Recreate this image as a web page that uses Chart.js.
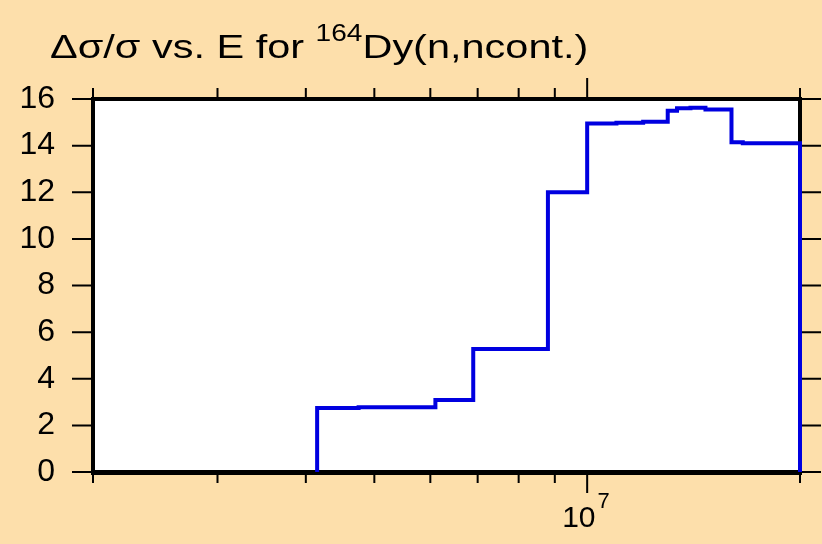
<!DOCTYPE html>
<html>
<head>
<meta charset="utf-8">
<script src="https://cdn.jsdelivr.net/npm/chart.js@4"></script>
<style>
    html, body { margin: 0; padding: 0; background: #fddfab; }
    canvas { display: block; }
</style>
</head>
<body>
<canvas id="chart" width="822" height="544"></canvas>
<script>
// upper bin edges (eV) and relative uncertainty (%) of each bin; first point is the threshold
const energies = [4.15e6, 4.75e6, 6.1e6, 6.9e6, 8.8e6, 1.0e7, 1.1e7, 1.2e7, 1.3e7, 1.34e7, 1.4e7, 1.47e7, 1.6e7, 1.66e7, 2e7, 2e7];
const uncertainty = [0, 2.75, 2.78, 3.09, 5.28, 12.0, 14.95, 14.98, 15.02, 15.5, 15.6, 15.63, 15.55, 14.15, 14.1, 0];
const xTicks = [2e6, 3e6, 4e6, 5e6, 6e6, 7e6, 8e6, 9e6, 1e7, 2e7];
const xMajor = [1e7];
const yTicks = [0, 2, 4, 6, 8, 10, 12, 14, 16];

const FONT = "'Liberation Sans', Arial, sans-serif";

// background, white plot area and black frame with outward ticks
const framePlugin = {
    id: "frame",
    beforeDraw(chart) {
        const ctx = chart.ctx;
        const a = chart.chartArea;
        ctx.save();
        ctx.fillStyle = "#fddfab";
        ctx.fillRect(0, 0, chart.width, chart.height);
        ctx.fillStyle = "#ffffff";
        ctx.fillRect(a.left, a.top, a.right - a.left, a.bottom - a.top);
        ctx.restore();
    },
    beforeDatasetsDraw(chart) {
        const ctx = chart.ctx;
        const a = chart.chartArea;
        const xs = chart.scales.x;
        const ys = chart.scales.y;
        ctx.save();
        ctx.strokeStyle = "#000";
        ctx.lineWidth = 2;
        ctx.beginPath();
        yTicks.forEach((v) => {
            const py = ys.getPixelForValue(v);
            ctx.moveTo(a.left - 21, py);
            ctx.lineTo(a.left, py);
            ctx.moveTo(a.right, py);
            ctx.lineTo(a.right + 21, py);
        });
        xTicks.forEach((v) => {
            const px = xs.getPixelForValue(v);
            const len = xMajor.includes(v) ? 21 : 11;
            ctx.moveTo(px, a.bottom);
            ctx.lineTo(px, a.bottom + len);
            ctx.moveTo(px, a.top - len);
            ctx.lineTo(px, a.top);
        });
        ctx.stroke();

        ctx.lineWidth = 4;
        ctx.strokeRect(a.left, a.top, a.right - a.left, a.bottom - a.top);
        ctx.lineWidth = 5;
        ctx.beginPath();
        ctx.moveTo(a.left - 2, a.bottom + 0.5);
        ctx.lineTo(a.right + 2, a.bottom + 0.5);
        ctx.stroke();

        // 10^7 label
        ctx.fillStyle = "#000";
        ctx.textBaseline = "alphabetic";
        ctx.textAlign = "left";
        xMajor.forEach((v) => {
            const px = xs.getPixelForValue(v);
            ctx.font = "30px " + FONT;
            const w = ctx.measureText("10").width;
            ctx.fillText("10", px - 25, 527);
            ctx.font = "22px " + FONT;
            ctx.fillText("7", px - 25 + w + 2, 508);
        });

        // title with superscript mass number, drawn a little wide like the original
        ctx.save();
        ctx.translate(50, 58);
        ctx.scale(1.22, 1);
        let x = 0;
        ctx.font = "34px " + FONT;
        ctx.fillText("\u0394\u03c3/\u03c3 vs. E for ", x, 0);
        x += ctx.measureText("\u0394\u03c3/\u03c3 vs. E for ").width;
        ctx.font = "23px " + FONT;
        ctx.fillText("164", x, -17);
        x += ctx.measureText("164").width;
        ctx.font = "34px " + FONT;
        ctx.fillText("Dy(n,ncont.)", x, 0);
        ctx.restore();
        ctx.restore();
    }
};

const ctx = document.getElementById("chart").getContext("2d");
const chart = new Chart(ctx, {
    type: "line",
    data: {
        datasets: [{
            data: energies.map((e, i) => ({ x: e, y: uncertainty[i] })),
            borderColor: "#0000e0",
            borderWidth: 4,
            pointRadius: 0,
            stepped: "after",
            fill: false,
            borderJoinStyle: "miter",
            borderCapStyle: "butt",
            clip: false,
        }, ],
    },
    options: {
        responsive: false,
        devicePixelRatio: 1,
        animation: false,
        layout: { padding: { top: 99, right: 22, left: 0, bottom: 0 } },
        plugins: { legend: { display: false }, tooltip: { enabled: false } },
        scales: {
            x: {
                type: "logarithmic",
                min: 2e6,
                max: 2e7,
                grid: { display: false },
                border: { display: false },
                ticks: { display: false },
                afterFit: (s) => { s.height = 72; },
            },
            y: {
                min: 0,
                max: 16,
                grid: { display: false },
                border: { display: false },
                ticks: {
                    stepSize: 2,
                    padding: 30,
                    color: "#000",
                    font: { family: FONT, size: 32 },
                },
                afterFit: (s) => { s.width = 93; },
            },
        },
    },
    plugins: [framePlugin],
});
</script>
</body>
</html>
